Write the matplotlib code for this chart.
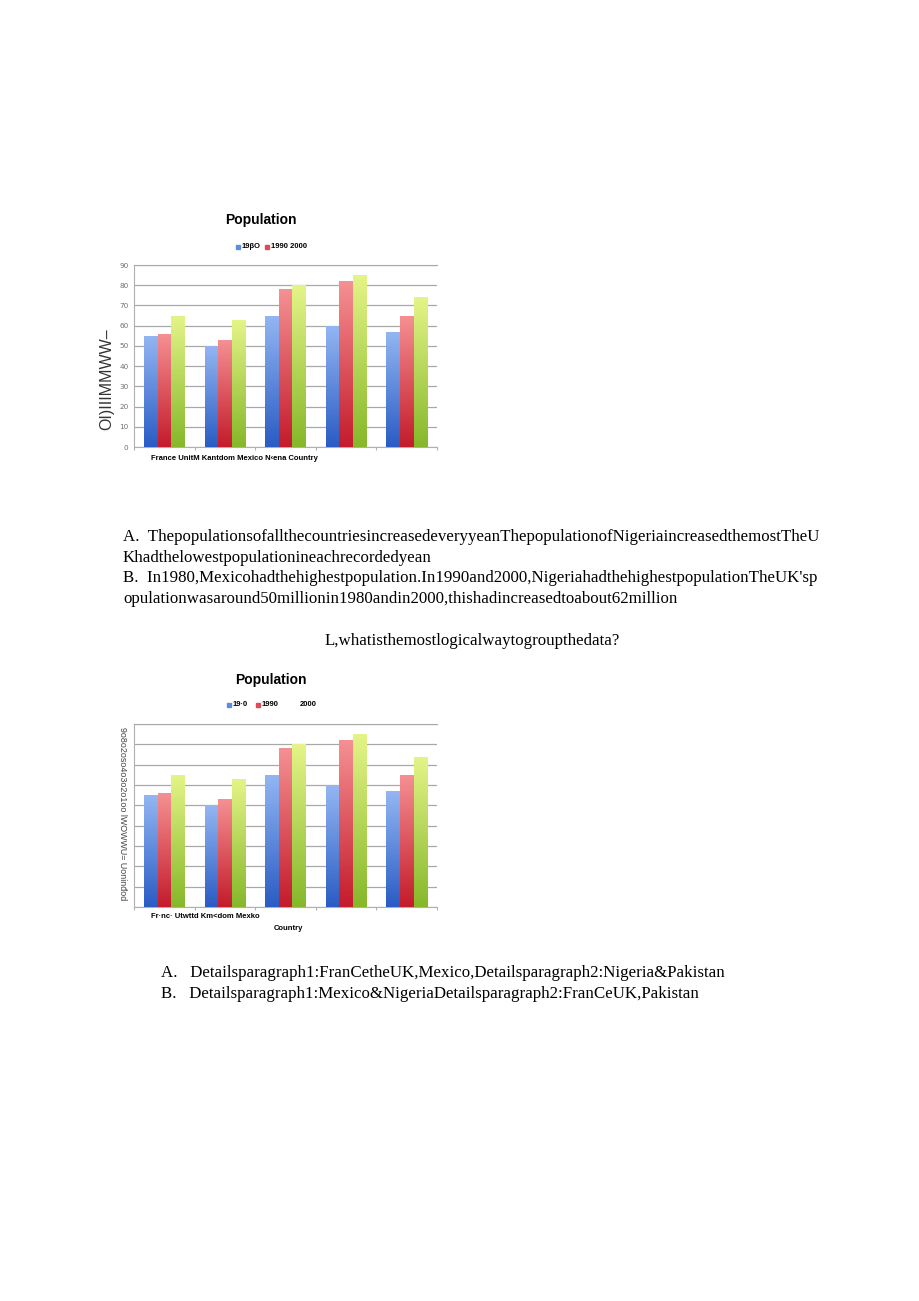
import numpy as np
import matplotlib
matplotlib.use("Agg")
import matplotlib.pyplot as plt
from matplotlib.colors import LinearSegmentedColormap
from matplotlib.patches import Rectangle

# data (population, millions)
countries = ["France", "United Kingdom", "Mexico", "Nigeria", "Pakistan"]
pop_1980 = [55, 50, 65, 60, 57]
pop_1990 = [56, 53, 78, 82, 65]
pop_2000 = [65, 63, 80, 85, 74]
y_ticks = [0, 10, 20, 30, 40, 50, 60, 70, 80, 90]

# gradient per series: (top colour, bottom colour)
SERIES = [
    (pop_1980, "#93b6f2", "#2a5cc4"),
    (pop_1990, "#f59092", "#c41c2c"),
    (pop_2000, "#e4f488", "#86b82a"),
]
OFFSETS = [-0.225, 0.0, 0.225]
BAR_W = 0.22

SERIF = ["Liberation Serif", "DejaVu Serif"]
SANS = ["Liberation Sans", "DejaVu Sans"]

W, H = 920, 1301
fig = plt.figure(figsize=(W / 100, H / 100), dpi=100)


def fx(px):
    return px / W


def fy(py):
    return 1 - py / H


def gradient_bars(ax):
    x = np.arange(len(countries))
    grad = np.linspace(0, 1, 64).reshape(-1, 1)
    for (vals, top, bottom), off in zip(SERIES, OFFSETS):
        bars = ax.bar(x + off, vals, BAR_W, facecolor="none", edgecolor="none", zorder=3)
        cmap = LinearSegmentedColormap.from_list("g", [bottom, top])
        for b in bars:
            x0, y0 = b.get_xy()
            im = ax.imshow(grad, extent=[x0, x0 + b.get_width(), y0, y0 + b.get_height()],
                           origin="lower", aspect="auto", cmap=cmap, zorder=3)
            im.set_clip_path(b)
    ax.set_xlim(-0.5, len(countries) - 0.5)
    ax.set_ylim(0, 90)
    ax.set_yticks(y_ticks)
    ax.grid(axis="y", color="#a8a8a8", linewidth=0.9, zorder=1)
    ax.set_xticks(np.arange(len(countries) + 1) - 0.5)
    ax.tick_params(axis="x", length=2, color="#b0b0b0", labelbottom=False)
    ax.spines["right"].set_visible(False)
    ax.spines["top"].set_color("#a8a8a8")
    ax.spines["left"].set_color("#b0b0b0")
    ax.spines["bottom"].set_color("#b0b0b0")


def legend(items, y):
    # small coloured squares + bold labels, as in the scan
    for px, colour, label in items:
        if colour is not None:
            fig.patches.append(Rectangle((fx(px), fy(y + 2.5)), 4 / W, 4 / H,
                                         transform=fig.transFigure, color=colour))
        fig.text(fx(px + 6), fy(y), label, fontsize=5.5, fontweight="bold",
                 family=SANS, va="center")


# ---- chart 1 ----
ax1 = fig.add_axes([fx(134), fy(447), fx(437) - fx(134), fy(265) - fy(447)])
gradient_bars(ax1)
ax1.tick_params(axis="y", length=0, labelsize=5.2, labelcolor="#707070", pad=4)
fig.text(fx(261), fy(220), "Population", fontsize=10, fontweight="bold",
         family=SANS, ha="center", va="center")
legend([(236, "#5b8ee0", "19βO"), (265, "#e04a55", "1990 2000")], 246)
fig.text(fx(107), fy(379), "OI)IIIMMWW–", fontsize=11.5, color="#333333",
         family=SANS, rotation=90, ha="center", va="center")
fig.text(fx(151), fy(459), "France UnitM Kantdom Mexico N‹ena Country", fontsize=5.5,
         fontweight="bold", family=SANS, va="center")

# ---- chart 2 ----
ax2 = fig.add_axes([fx(134), fy(907), fx(437) - fx(134), fy(724) - fy(907)])
gradient_bars(ax2)
ax2.tick_params(axis="y", length=0, labelleft=False)
fig.text(fx(271), fy(680), "Population", fontsize=10, fontweight="bold",
         family=SANS, ha="center", va="center")
legend([(227, "#5b8ee0", "19·0"), (256, "#e04a55", "1990"), (294, None, "2000")], 705)
fig.text(fx(123), fy(814), "9o8o2oso4o3o2o1oo lWOWWU= Uoninđod", fontsize=6.4,
         color="#444444", family=SANS, rotation=-90, ha="center", va="center")
fig.text(fx(151), fy(916), "Fr·nc· Utwttd Km<dom Mexko", fontsize=5.5,
         fontweight="bold", family=SANS, va="center")
fig.text(fx(288), fy(929), "Country", fontsize=5.5, fontweight="bold",
         family=SANS, ha="center", va="center")

# ---- question text ----
lines = [
    (123, 537, "A.  ThepopulationsofallthecountriesincreasedeveryyeanThepopulationofNigeriaincreasedthemostTheU"),
    (123, 558, "Khadthelowestpopulationineachrecordedyean"),
    (123, 578, "B.  In1980,Mexicohadthehighestpopulation.In1990and2000,NigeriahadthehighestpopulationTheUK'sp"),
    (123, 599, "opulationwasaround50millionin1980andin2000,thishadincreasedtoabout62million"),
    (161, 973, "A.   Detailsparagraph1:FranCetheUK,Mexico,Detailsparagraph2:Nigeria&Pakistan"),
    (161, 994, "B.   Detailsparagraph1:Mexico&NigeriaDetailsparagraph2:FranCeUK,Pakistan"),
]
for px, py, s in lines:
    fig.text(fx(px), fy(py), s, fontsize=12.2, family=SERIF, va="center")
fig.text(fx(472), fy(641), "L,whatisthemostlogicalwaytogroupthedata?", fontsize=12.2,
         family=SERIF, ha="center", va="center")

fig.savefig("out.png", dpi=100)
